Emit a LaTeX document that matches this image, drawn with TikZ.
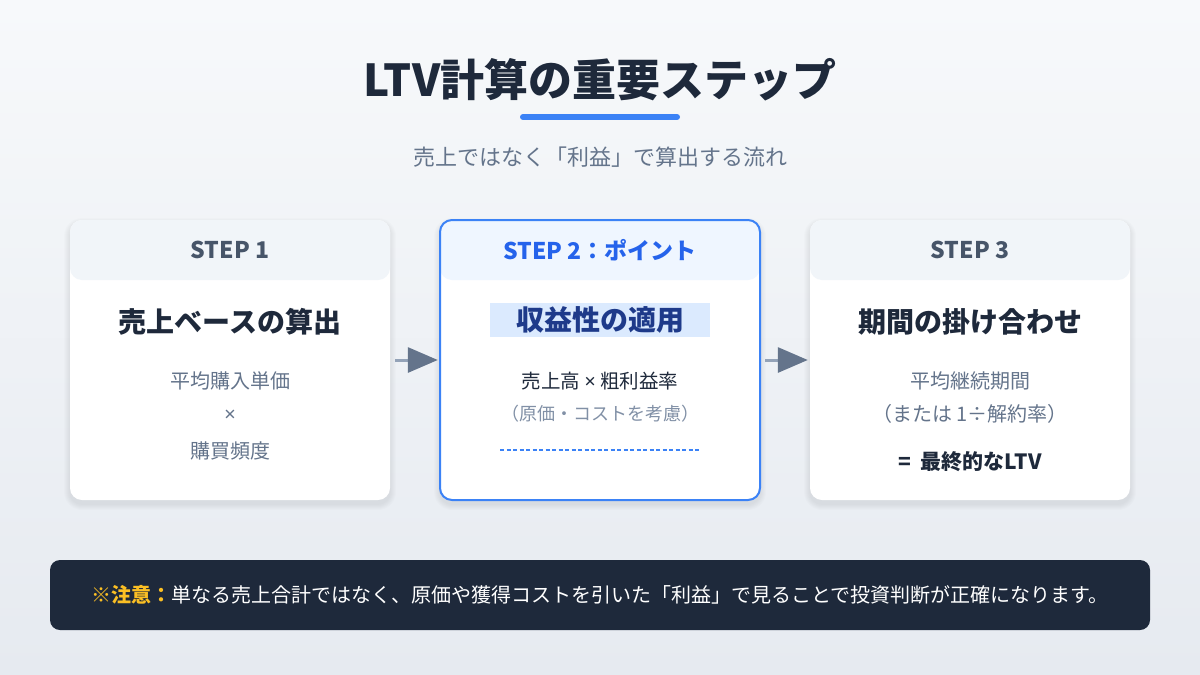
\documentclass[tikz,border=0pt]{standalone}
\usepackage{fontspec}
\setmainfont{Noto Sans CJK JP}
\newfontfamily\latinf{Noto Sans}
\usetikzlibrary{arrows.meta}
\definecolor{dark}{HTML}{1E293B}
\definecolor{slateA}{HTML}{475569}
\definecolor{slateB}{HTML}{64748B}
\definecolor{slateC}{HTML}{94A3B8}
\definecolor{blueA}{HTML}{3B82F6}
\definecolor{blueB}{HTML}{2563EB}
\definecolor{blueC}{HTML}{DBEAFE}
\definecolor{blueD}{HTML}{EFF6FF}
\definecolor{headg}{HTML}{F1F5F9}
\definecolor{navy}{HTML}{1E3A8A}
\definecolor{amber}{HTML}{FBBF24}
\definecolor{bgA}{HTML}{F7F9FB}
\definecolor{bgB}{HTML}{E6EAF0}
\newcommand{\fs}[1]{\fontsize{#1}{#1}\selectfont}
\newcommand{\mytimes}{{\latinf ×}}
\newcommand{\cardshadow}[4]{%
  \foreach \k in {1,...,6}{\fill[black, opacity=0.012, rounded corners=12pt+\k pt] (#1-\k,#2-\k+4) rectangle (#3+\k,#4+\k+4);}}
\tikzset{
  card/.style={rounded corners=12pt, fill=white, minimum width=320pt, minimum height=280pt, inner sep=0pt},
  head/.style={rounded corners=12pt, minimum width=320pt, minimum height=60pt, inner sep=0pt},
  steptxt/.style={font=\fs{23}\bfseries, text=slateA},
  ctitle/.style={font=\fs{28}\bfseries, text=dark},
  body/.style={font=\fs{20}, text=slateB},
  flow/.style={draw=slateC, line width=3pt, -{Triangle[length=30pt,width=25pt,color=slateB]}},
}
\begin{document}
\begin{tikzpicture}[x=1pt,y=-1pt]
\useasboundingbox (0,0) rectangle (1200,675);
\shade[top color=bgA, bottom color=bgB] (0,0) rectangle (1200,675);

% title
\node[font=\fs{44}\bfseries, text=dark] (title) at (600,80) {LTV計算の重要ステップ};
\draw[blueA, line width=6pt, line cap=round] (523,117) -- (677,117);
\node[font=\fs{22}, text=slateB] (sub) at (600,157) {売上ではなく「利益」で算出する流れ};

% shadows
\cardshadow{70}{220}{390}{500}
\cardshadow{440}{220}{760}{500}
\cardshadow{810}{220}{1130}{500}

% cards
\node[card] (c1) at (230,360) {};
\node[card] (c2) at (600,360) {};
\node[card] (c3) at (970,360) {};

% headers
\node[head, fill=headg] (h1) at (230,250) {};
\node[head, fill=blueD] (h2) at (600,250) {};
\node[head, fill=headg] (h3) at (970,250) {};
\draw[blueA, line width=2pt, rounded corners=12pt] (440,220) rectangle (760,500);

\node[steptxt] (s1) at (230,250) {STEP 1};
\node[steptxt, text=blueB] (s2) at (600,250) {STEP 2：ポイント};
\node[steptxt] (s3) at (970,250) {STEP 3};

% card 1
\node[ctitle] (t1) at (230,322) {売上ベースの算出};
\node[body] (b1a) at (230,381) {平均購入単価};
\node[body] (b1b) at (230,416) {\mytimes};
\node[body] (b1c) at (230,451) {購買頻度};

% card 2
\node[fill=blueC, minimum width=220pt, minimum height=34pt, inner sep=0pt] (hl) at (600,320) {};
\node[ctitle, text=navy] (t2) at (600,320) {収益性の適用};
\node[font=\fs{19.5}, text=dark] (b2a) at (600,381) {売上高 \mytimes{} 粗利益率};
\node[font=\fs{18}, text=slateC!60!slateB] (b2b) at (600,414) {（原価・コストを考慮）};
\draw[blueA, line width=2pt, dash pattern=on 4pt off 2.5pt] (500,449.5) -- (700,449.5);

% card 3
\node[ctitle] (t3) at (970,322) {期間の掛け合わせ};
\node[body] (b3a) at (970,381) {平均継続期間};
\node[body] (b3b) at (970,414) {（または 1÷解約率）};
\node[font=\fs{21}\bfseries, text=dark] (b3c) at (970,462) {=\ \ 最終的なLTV};

% arrows
\draw[flow] ([xshift=5pt]c1.east) -- ([xshift=-2pt]c2.west);
\draw[flow] ([xshift=5pt]c2.east) -- ([xshift=-2pt]c3.west);

% note bar
\node[fill=dark, rounded corners=10pt, minimum width=1100pt, minimum height=70pt, inner sep=0pt] (bar) at (600,595) {};
\node[font=\fs{20}, text=white] (note) at (600,595) {{\bfseries\color{amber}※注意：}単なる売上合計ではなく、原価や獲得コストを引いた「利益」で見ることで投資判断が正確になります。};
\end{tikzpicture}
\end{document}
